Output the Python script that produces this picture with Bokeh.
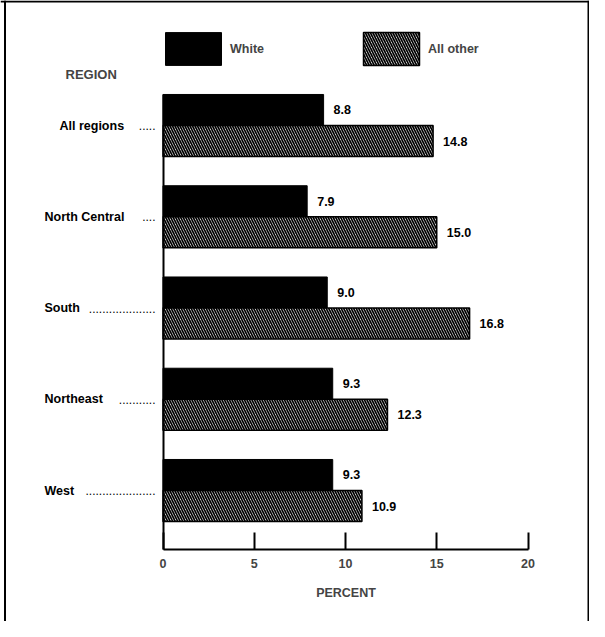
from bokeh.plotting import figure
from bokeh.models import (Range1d, LinearAxis, FixedTicker, ColumnDataSource,
                          Legend, LegendItem, Span, Label)
from bokeh.core.properties import value
from bokeh.embed import file_html
from bokeh.resources import INLINE

# ---- data ----
regions = ["All regions", "North Central", "South", "Northeast", "West"]
white = [8.8, 7.9, 9.0, 9.3, 9.3]
all_other = [14.8, 15.0, 16.8, 12.3, 10.9]
x_ticks = [0, 5, 10, 15, 20]
leaders = [".....", "....", "....................", "...........", "....................."]

# ---- style / layout ----
label_indent = [15, 0, 0, 0, 0]
FONT = "Liberation Sans"
FS = "12.5px"
W, H = 589, 621
X0 = 162.5      # canvas px of 0 %
PPU = 18.25     # px per percent
Y0 = 125.0      # canvas px of first group center
PITCH = 91.25   # px between groups
BAR_H = 0.34


def dx(cx):
    return (cx - X0) / PPU


def dy(cy):
    return (cy - Y0) / PITCH


p = figure(width=W, height=H, output_backend="svg", toolbar_location=None,
           x_range=Range1d(dx(0), dx(W)), y_range=Range1d(dy(H), dy(0)),
           x_axis_location=None, y_axis_location=None, min_border=0,
           outline_line_color=None, background_fill_color="white",
           border_fill_color="white")
p.grid.visible = False

idx = list(range(len(regions)))
src = ColumnDataSource(dict(
    idx=idx,
    region=regions,
    leader=leaders,
    indent=label_indent,
    yw=[i - BAR_H / 2 for i in idx],
    yo=[i + BAR_H / 2 for i in idx],
    white=white,
    other=all_other,
    white_lbl=[f"{v:.1f}" for v in white],
    other_lbl=[f"{v:.1f}" for v in all_other],
))

rw = p.hbar(y="yw", left=0, right="white", height=BAR_H, fill_color="black",
            line_color="black", line_width=1, source=src)
ro = p.hbar(y="yo", left=0, right="other", height=BAR_H, fill_color="white",
            hatch_pattern="\\", hatch_color="black", hatch_scale=5,
            hatch_weight=1.7, line_color="black", line_width=1.5, source=src)

txt = dict(text_font=value(FONT), text_font_style="bold", text_font_size=FS,
           text_baseline="middle", text_color="black")
p.text(x="white", y="yw", text="white_lbl", x_offset=10, text_align="left",
       source=src, **txt)
p.text(x="other", y="yo", text="other_lbl", x_offset=10, text_align="left",
       source=src, **txt)

# category labels with dot leaders
p.text(x=dx(44), y="idx", text="region", x_offset="indent", text_align="left",
       source=src, **txt)
p.text(x=dx(155), y="idx", text="leader", text_align="right",
       text_font=value(FONT), text_font_size="12px", text_baseline="middle",
       text_color="black", source=src)

p.add_layout(Label(x=dx(65), y=dy(74), text="REGION", text_baseline="middle",
                   text_font=FONT, text_font_style="bold", text_font_size="13px"))

# x axis
xaxis = LinearAxis(fixed_location=dy(549), bounds=(0, 20),
                   ticker=FixedTicker(ticks=x_ticks), axis_label="PERCENT",
                   major_tick_in=17, major_tick_out=0, minor_tick_in=0,
                   minor_tick_out=0, axis_line_width=2, major_tick_line_width=2,
                   major_label_standoff=9, axis_label_standoff=15,
                   major_label_text_font=FONT, major_label_text_font_style="bold",
                   major_label_text_font_size=FS,
                   axis_label_text_font=FONT, axis_label_text_font_style="bold",
                   axis_label_text_font_size=FS)
p.add_layout(xaxis, "below")

# y spine
yaxis = LinearAxis(fixed_location=0, bounds=(-BAR_H, dy(549)),
                   ticker=FixedTicker(ticks=[]), major_label_text_font_size="0px",
                   major_tick_in=0, major_tick_out=0, minor_tick_in=0,
                   minor_tick_out=0, axis_line_width=2)
p.add_layout(yaxis, "left")

legend = Legend(items=[LegendItem(label="White", renderers=[rw]),
                       LegendItem(label="All other", renderers=[ro])],
                orientation="horizontal", location=(158, 552),
                glyph_width=70, glyph_height=41, label_standoff=2, spacing=92,
                padding=0, margin=0, border_line_color=None,
                background_fill_alpha=0, label_height=41,
                label_text_font=FONT, label_text_font_style="bold",
                label_text_font_size=FS)
p.add_layout(legend)

# frame border (left, top, right)
for loc, dim in [(dx(4.5), "height"), (dx(588), "height"), (dy(1), "width")]:
    p.add_layout(Span(location=loc, dimension=dim, line_color="black",
                      line_width=2))

open("out.html", "w").write(file_html(p, INLINE))
